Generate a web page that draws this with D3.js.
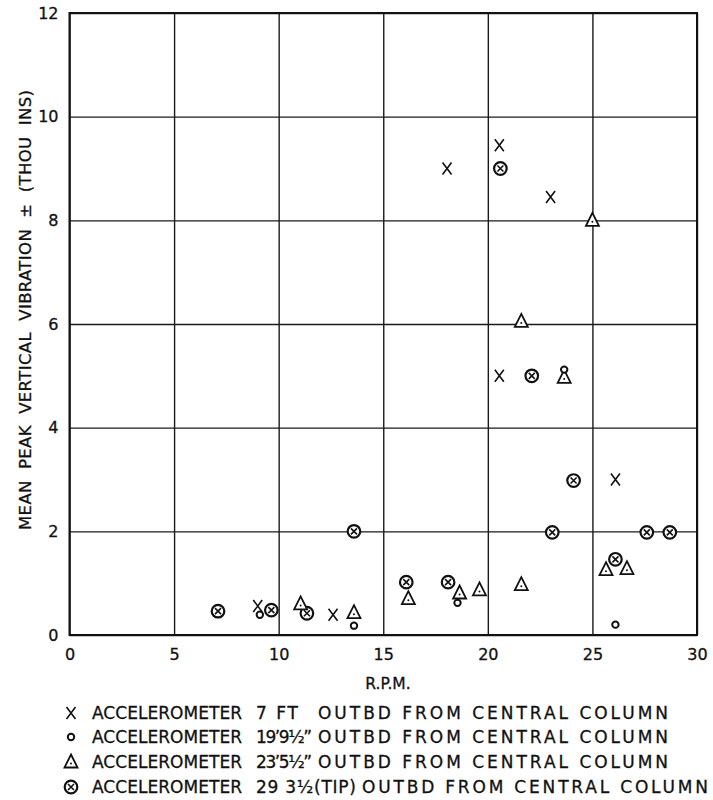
<!DOCTYPE html>
<html>
<head>
<meta charset="utf-8">
<script src="https://cdn.jsdelivr.net/npm/d3@7"></script>
<style>
  body {margin: 0; background: #fff;}
  svg {display: block; font-family: 'DejaVu Sans', sans-serif; color: #111;}
  svg text {stroke: #111; stroke-width: 0.3px;}
</style>
</head>
<body>
<script>
// tick values
var rpmTicks = [0, 5, 10, 15, 20, 25, 30]
var vibTicks = [0, 2, 4, 6, 8, 10, 12]

// [rpm, mean peak vertical vibration (thou ins)]
var accel7ft = [[9.0, 0.56], [12.6, 0.39], [18.05, 9.0], [20.55, 9.45], [20.55, 5.0], [23.0, 8.45], [26.1, 3.0]]
var accel19ft = [[9.1, 0.39], [13.6, 0.18], [18.55, 0.62], [23.65, 5.12], [26.1, 0.2]]
var accel23ft = [[11.05, 0.6], [13.6, 0.43], [16.2, 0.7], [18.65, 0.81], [19.6, 0.87], [21.6, 0.97],
  [21.6, 6.05], [23.65, 4.97], [25.0, 8.0], [25.65, 1.26], [26.65, 1.28]]
var accelTip = [[7.1, 0.46], [9.65, 0.48], [11.35, 0.42], [13.6, 2.0], [16.1, 1.02], [18.1, 1.02],
  [20.6, 9.0], [22.1, 5.0], [23.08, 1.98], [24.1, 2.98], [26.1, 1.46], [27.6, 1.98], [28.7, 1.98]]

var seriesNames = ['x', 'dot', 'tri', 'tip']
var seriesData = [accel7ft, accel19ft, accel23ft, accelTip]
var legendSpecs = ['7 FT', '19\u20199\u00bd\u201d', '23\u20195\u00bd\u201d', '29 3\u00bd(TIP)']

var nb = '\u00a0\u00a0'  // wide word gaps like the stencil lettering

var svg = d3.select('body').append('svg').attr('width', 713).attr('height', 800)

var x = d3.scaleLinear().domain([0, 30]).range([69.5, 697])
var y = d3.scaleLinear().domain([0, 12]).range([635, 13])

// grid
svg.append('g').attr('transform', 'translate(0,635)')
  .call(d3.axisBottom(x).tickValues(rpmTicks).tickSize(-(635 - 13)).tickFormat(''))
  .call(g => g.select('.domain').remove())
  .selectAll('line').attr('stroke', '#1a1a1a').attr('stroke-width', 1.4)

svg.append('g').attr('transform', 'translate(69.5,0)')
  .call(d3.axisLeft(y).tickValues(vibTicks).tickSize(-(697 - 69.5)).tickFormat(''))
  .call(g => g.select('.domain').remove())
  .selectAll('line').attr('stroke', '#1a1a1a').attr('stroke-width', 1.4)

svg.append('rect')
  .attr('x', x(0)).attr('y', y(12))
  .attr('width', x(30) - x(0)).attr('height', y(0) - y(12))
  .attr('fill', 'none').attr('stroke', '#111').attr('stroke-width', 2)

// tick labels
svg.append('g').attr('transform', 'translate(0,635)')
  .call(d3.axisBottom(x).tickValues(rpmTicks).tickSize(0).tickPadding(14))
  .call(g => g.select('.domain').remove())
  .selectAll('text').attr('font-size', 16).attr('font-family', 'DejaVu Sans').attr('fill', '#111')

svg.append('g').attr('transform', 'translate(69.5,0)')
  .call(d3.axisLeft(y).tickValues(vibTicks).tickSize(0).tickPadding(11))
  .call(g => g.select('.domain').remove())
  .selectAll('text').attr('font-size', 16).attr('font-family', 'DejaVu Sans').attr('fill', '#111')

// markers
function drawMarker(sel, name){
  var ink = '#111'
  if (name == 'x'){
    sel.append('path').attr('d', 'M-4.5,-6L4.5,6M4.5,-6L-4.5,6')
      .attr('stroke', ink).attr('stroke-width', 1.6).attr('fill', 'none')
  }
  if (name == 'dot'){
    sel.append('circle').attr('r', 3.2).attr('fill', '#fff').attr('stroke', ink).attr('stroke-width', 2)
  }
  if (name == 'tri'){
    sel.append('path').attr('d', 'M0,-7.5L6.5,5.5L-6.5,5.5Z')
      .attr('stroke', ink).attr('stroke-width', 1.8).attr('fill', '#fff')
    sel.append('circle').attr('cy', 1.5).attr('r', 1).attr('fill', ink)
  }
  if (name == 'tip'){
    sel.append('circle').attr('r', 6.3).attr('fill', '#fff').attr('stroke', ink).attr('stroke-width', 2.2)
    sel.append('path').attr('d', 'M-3,-3L3,3M3,-3L-3,3')
      .attr('stroke', ink).attr('stroke-width', 1.6)
  }
}

// tip circles underneath so the small dots and crosses sit on top like the original
var order = [3, 2, 0, 1]
order.forEach(i => {
  svg.append('g').selectAll('g')
    .data(seriesData[i]).join('g')
    .attr('transform', d => `translate(${x(d[0])},${y(d[1])})`)
    .each(function(){ drawMarker(d3.select(this), seriesNames[i]) })
})

// axis titles
svg.append('text')
  .attr('x', 388).attr('y', 689)
  .attr('text-anchor', 'middle').attr('font-size', 15.5).attr('fill', '#111')
  .text('R.P.M.')

svg.append('text')
  .attr('transform', 'translate(31,310) rotate(-90)')
  .attr('text-anchor', 'middle').attr('font-size', 16.5).attr('fill', '#111')
  .attr('textLength', 440).attr('lengthAdjust', 'spacing')
  .text(['MEAN', 'PEAK', 'VERTICAL', 'VIBRATION', '\u00b1', '(THOU', 'INS)'].join(nb))

// legend
var legendY = [713, 737, 762, 787]
seriesNames.forEach((name, i) => {
  var g = svg.append('g').attr('transform', `translate(0,${legendY[i]})`)
  drawMarker(g.append('g').attr('transform', 'translate(71,0)'), name)
  var txt = (s, x0, w) => g.append('text')
    .attr('x', x0).attr('y', 6).attr('font-size', 17).attr('fill', '#111')
    .attr('textLength', w).attr('lengthAdjust', 'spacing')
    .text(s)
  txt('ACCELEROMETER', 92, 150)
  txt(legendSpecs[i], 256, i == 3 ? 100 : (i == 0 ? 42 : 56))
  var rest = 'OUTBD FROM CENTRAL COLUMN'
  if (i == 3) txt(rest, 362, 346)
  else txt(rest, 318, 350)
})
</script>
</body>
</html>
